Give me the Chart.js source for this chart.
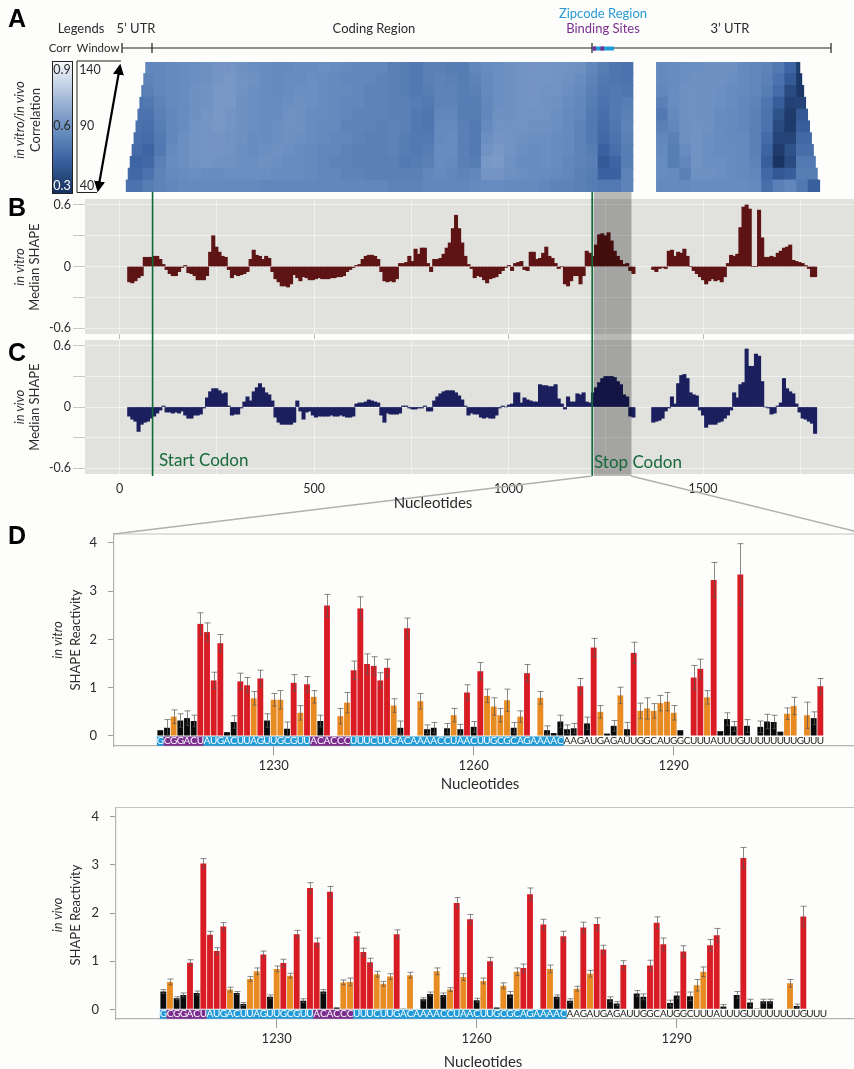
<!DOCTYPE html>
<html>
<head>
<meta charset="utf-8">
<script src="https://cdn.jsdelivr.net/npm/chart.js@4/dist/chart.umd.min.js"></script>
<style>
  html, body { margin: 0; padding: 0; background: #fdfdfb; }
  #page { position: relative; width: 854px; height: 1069px; overflow: hidden; font-family: Lato, "Open Sans", sans-serif; color: #2b2b2b; }
  canvas { position: absolute; }
  .t { position: absolute; transform: translate(-50%, -50%); white-space: nowrap; font-size: 13px; }
  .r { transform: translate(-50%, -50%) rotate(-90deg); }
  .i { font-style: italic; }
  .big { font-weight: 700; font-size: 25px; color: #000; font-family: "Liberation Sans", sans-serif; }
  .green { color: #17693a; font-size: 17px; transform: none; }
  #overlay { position: absolute; left: 0; top: 0; }
  #corrBox { position: absolute; left: 52px; top: 61px; width: 19px; height: 131px; border: 1px solid #222; }
</style>
</head>
<body>
<div id="page">
  <canvas id="heatmap" width="854" height="134" style="left:0;top:60px"></canvas>
  <canvas id="panelB" width="854" height="148" style="left:0;top:192px"></canvas>
  <canvas id="panelC" width="854" height="165" style="left:0;top:340px"></canvas>
  <canvas id="panelD1" width="854" height="250" style="left:0;top:525px"></canvas>
  <canvas id="panelD2" width="854" height="250" style="left:0;top:798px"></canvas>

  <div id="corrBox"></div>
  <svg id="overlay" width="854" height="1069">
    <defs><marker id="ah" viewBox="0 0 10 10" refX="8" refY="5" markerWidth="5" markerHeight="5" orient="auto-start-reverse"><path d="M0 0L10 5L0 10z" fill="#000"/></marker></defs>
    <path d="M121 61H77V192.5H97" fill="none" stroke="#222" stroke-width="1"/>
    <path d="M120 66L98 190" stroke="#000" stroke-width="2.2" marker-start="url(#ah)" marker-end="url(#ah)"/>
    <path d="M122 48H831M122 43V53M152 43V53M592 43V53M831 43V53" stroke="#222" stroke-width="1.2" fill="none"/>
    <rect x="592.5" y="46.5" width="21.5" height="4" fill="#1f9ad6"/>
    <rect x="592.5" y="46.5" width="3.5" height="4" fill="#7b2d8e"/>
    <rect x="600.5" y="46.5" width="3.5" height="4" fill="#7b2d8e"/>
    <path d="M592 476L114 534M631 476L854 531" stroke="#b0b0ae" stroke-width="1.5" fill="none"/>
  </svg>

  <div class="t big" style="left:17px;top:18px">A</div>
  <div class="t big" style="left:17px;top:207px">B</div>
  <div class="t big" style="left:17px;top:352px">C</div>
  <div class="t big" style="left:17px;top:535px">D</div>

  <div class="t" style="left:81px;top:28px">Legends</div>
  <div class="t" style="left:136px;top:28px">5’ UTR</div>
  <div class="t" style="left:374px;top:28px">Coding Region</div>
  <div class="t" style="left:603px;top:13px;color:#2a9ad4">Zipcode Region</div>
  <div class="t" style="left:603px;top:28px;color:#7b2d8e">Binding Sites</div>
  <div class="t" style="left:730px;top:28px">3’ UTR</div>
  <div class="t" style="left:60px;top:47px;font-size:11.5px">Corr</div>
  <div class="t" style="left:98px;top:47px;font-size:11.5px">Window</div>

  <div class="t" style="left:62px;top:69px;font-size:12.5px">0.9</div>
  <div class="t" style="left:62px;top:125px;font-size:12.5px">0.6</div>
  <div class="t" style="left:62px;top:185px;font-size:12.5px;color:#fff">0.3</div>
  <div class="t" style="left:90px;top:69px;font-size:12.5px">140</div>
  <div class="t" style="left:87px;top:125px;font-size:12.5px">90</div>
  <div class="t" style="left:87px;top:185px;font-size:12.5px">40</div>

  <div class="t r i" style="left:19px;top:120px">in vitro/in vivo</div>
  <div class="t r" style="left:35px;top:120px">Correlation</div>
  <div class="t r i" style="left:19px;top:267px">in vitro</div>
  <div class="t r" style="left:34px;top:267px">Median SHAPE</div>
  <div class="t r i" style="left:19px;top:407px">in vivo</div>
  <div class="t r" style="left:34px;top:407px">Median SHAPE</div>

  <div class="t green" style="left:159px;top:449px">Start Codon</div>
  <div class="t green" style="left:594px;top:451px">Stop Codon</div>
  <div class="t" style="left:433px;top:502px;font-size:15px">Nucleotides</div>

  <div class="t r i" style="left:57px;top:640px">in vitro</div>
  <div class="t r" style="left:75px;top:640px">SHAPE Reactivity</div>
  <div class="t" style="left:480px;top:783px;font-size:15px">Nucleotides</div>
  <div class="t r i" style="left:57px;top:915px">in vivo</div>
  <div class="t r" style="left:75px;top:915px">SHAPE Reactivity</div>
  <div class="t" style="left:483px;top:1061px;font-size:15px">Nucleotides</div>
</div>

<script>
// correlation heatmap, one row per window size (values are correlation x 100)
const windows = [140, 130, 120, 110, 100, 90, 80, 70, 60, 50, 40];
const heatRowStart = [67, 62, 57, 52, 47, 42, 37, 32, 27, 22, 17];
const heatRowEnd = [1749, 1754, 1759, 1764, 1769, 1774, 1779, 1784, 1789, 1794, 1800];
const heatBinSize = 30;
const heatCoding = [
  [50,50,56,56,57,58,59,60,62,62,60,59,58,57,57,58,58,59,58,57,56,56,56,54,53,52,54,54,53,53,56,58,59,60,61,62,62,61,61,60,56,53,51,50],
  [50,50,55,56,57,58,59,60,62,63,61,60,58,57,58,58,59,58,57,56,56,56,55,54,53,52,54,55,54,53,55,57,59,60,61,62,62,61,60,58,55,52,51,50],
  [50,50,54,56,57,58,60,61,63,63,61,59,58,57,58,59,59,58,57,57,56,55,55,54,53,52,53,55,55,53,54,57,59,60,61,62,61,61,59,57,54,51,52,51],
  [50,50,52,55,57,58,60,61,63,63,60,59,58,58,59,60,59,58,57,56,56,55,55,54,54,53,52,55,55,53,53,56,59,60,61,62,61,60,58,56,53,50,52,53],
  [50,50,50,54,56,58,60,62,63,62,60,59,58,58,60,60,58,58,57,56,55,55,55,54,54,52,51,56,56,53,53,56,60,60,61,61,61,59,57,56,52,49,52,54],
  [50,50,49,53,56,58,61,62,63,62,60,59,58,59,60,60,58,57,57,55,55,55,54,55,54,52,51,57,57,54,52,57,61,61,61,60,60,59,57,55,52,48,51,55],
  [50,49,48,52,56,59,61,62,62,61,60,58,58,59,60,59,58,57,56,56,55,54,54,55,53,52,52,57,58,54,52,59,62,61,60,59,59,58,57,55,52,47,50,54],
  [49,48,46,52,57,59,61,62,62,61,59,58,59,60,59,58,57,56,56,55,54,54,54,55,53,52,53,58,58,54,52,61,63,61,59,58,59,58,57,55,53,45,49,53],
  [48,46,47,54,58,59,61,62,61,60,59,59,60,59,58,58,57,56,55,55,54,54,54,54,52,53,54,58,57,54,53,63,64,60,58,58,59,58,56,55,54,43,46,53],
  [48,47,50,55,57,58,59,58,58,59,59,59,59,58,58,58,57,56,56,55,55,54,54,54,54,54,56,57,56,55,56,62,62,60,59,58,58,57,56,54,53,45,45,55],
  [50,50,53,55,56,57,57,57,57,57,57,57,56,56,56,56,56,56,56,56,56,56,56,55,55,55,56,56,56,56,57,58,58,57,57,57,56,55,55,54,53,52,52,55]
];
const heatUtrBin = 46; // first bin after the gap
const heatUtr = [
  [57,58,59,59,60,60,60,57,56,55,52,46,34,34],
  [57,58,59,60,60,60,59,57,56,54,50,43,32,32],
  [56,58,60,60,60,59,58,57,56,53,48,38,32,32],
  [54,58,60,60,60,59,58,56,55,51,44,35,36,36],
  [52,57,60,60,60,58,57,56,54,50,40,33,42,42],
  [54,56,60,61,60,58,57,56,54,50,38,33,44,44],
  [56,54,60,61,59,58,57,57,54,48,36,36,47,47],
  [57,53,58,61,59,58,58,57,54,46,33,40,49,49],
  [58,53,56,61,59,59,58,57,55,44,31,38,52,52],
  [58,57,54,60,60,59,58,57,56,47,42,44,53,53],
  [57,57,57,58,58,58,58,58,57,49,54,56,52,44]
];
const corrStops = [[30, [23, 49, 95]], [45, [58, 98, 160]], [57, [100, 138, 190]], [65, [126, 156, 200]], [90, [245, 247, 251]]];

// median SHAPE, one value every 8 nt
const medianStep = 8;
const codingStart = 25;
const utrStart = 1372;
const medianTicks = [0, 250, 500, 750, 1000, 1250, 1500, 1750];
const vitroCoding = [
  -.15,-.16,-.14,-.11,-.09,.09,.09,.09,.10,.10,
  .07,.02,-.03,-.07,-.09,-.09,-.05,-.01,.01,-.06,
  -.07,-.09,-.13,-.13,-.13,-.09,.14,.30,.19,.14,
  .10,.09,-.03,-.11,-.08,-.09,-.08,-.07,-.05,.07,
  .16,.11,.10,.07,.10,.08,-.05,-.12,-.15,-.19,
  -.19,-.20,-.17,-.08,-.11,-.14,-.10,-.11,-.13,-.13,
  -.12,-.11,-.12,-.12,-.12,-.11,-.11,-.10,-.10,-.09,
  -.05,-.03,-.01,.01,.02,.07,.10,.11,.11,.10,
  .07,-.05,-.14,-.15,-.14,-.15,-.12,.03,.03,.04,
  .10,.05,.17,.12,.18,.18,.03,-.05,
  .07,.07,.08,.12,.18,.23,.37,.50,.37,
  .23,.10,.02,-.02,-.11,-.09,-.10,-.13,-.16,-.12,
  -.11,-.10,-.07,-.04,-.01,.01,-.04,.03,.04,.05,
  -.03,-.04,.14,.14,.07,.08,.13,.19,.10,.08,
  .03,-.02,0,-.17,-.19,-.14,-.09,-.09,-.17,-.09,
  .15,.13,.10,.21,.31,.32,.30,.33,.25,.15,
  .10,.06,.02,.03,-.04,-.07
];
const vitroUtr = [
  -.03,-.05,-.02,-.01,-.02,.15,.16,.10,.14,.13,
  .17,.10,0,-.04,-.07,-.10,-.13,-.17,-.14,-.12,
  -.14,-.13,-.15,-.10,.03,.11,.10,.12,.38,.58,
  .60,.56,0,0,.55,.28,.09,.09,.10,.09,
  .13,.15,.18,.19,.21,.06,.05,.04,.03,.01,
  -.02,-.10,-.10
];
const vivoCoding = [
  -.09,-.12,-.14,-.24,-.17,-.15,-.14,-.11,-.09,-.06,
  -.03,.01,-.05,-.05,-.06,-.05,-.06,-.04,-.08,-.11,
  -.11,-.08,-.08,-.07,-.01,.09,.15,.18,.18,.16,
  .13,.14,.01,-.08,-.07,-.07,-.01,.05,.10,.06,
  .15,.19,.23,.19,.14,.12,.06,-.10,-.15,-.17,
  -.17,-.17,-.17,-.15,.06,-.04,-.12,-.05,-.04,-.08,
  -.10,-.09,-.09,-.09,-.09,-.08,-.09,-.09,-.08,
  -.09,-.10,-.10,-.09,.03,.04,.04,.05,.07,.06,
  .05,.04,-.08,-.15,-.06,-.07,-.07,-.07,-.06,.01,
  .01,-.01,-.02,-.02,-.01,-.01,.01,-.04,-.04,
  .06,.10,.13,.15,.16,.16,.16,.14,.11,
  .07,.01,-.08,-.06,-.07,-.07,-.10,-.11,-.10,-.11,
  -.11,-.08,-.01,.01,0,.02,.03,.14,.14,.04,
  .09,.07,.06,.05,.05,.22,.21,.21,.20,.20,
  .22,.08,.03,-.02,.10,.05,.05,.13,.12,.14,
  .05,.04,.14,.19,.24,.28,.30,.30,.30,.29,
  .25,.22,.12,.10,-.09,-.10
];
const vivoUtr = [
  -.15,-.14,-.13,-.11,-.04,-.01,.10,.03,.23,.31,
  .32,.28,.14,.12,.11,-.03,-.08,-.20,-.17,-.17,
  -.17,-.15,-.14,-.11,-.08,-.03,.14,.09,.22,.24,
  .57,.40,.40,.52,.50,.25,0,-.01,-.07,-.06,
  .01,.04,.28,.18,.15,.13,.03,-.05,-.11,-.12,
  -.14,-.16,-.26
];
const startCodon = 85;
const stopCodon = 1215;
const zoomRegion = [1219, 1316];

// SHAPE reactivity per nucleotide, first base is nt 1213
const firstNt = 1213;
const sequence = 'GCGGACUAUGACUUAGUUGCGUUACACCCUUUCUUGACAAAACCUAACUUGCGCAGAAAACAAGAUGAGAUUGGCAUGGCUUUAUUUGUUUUUUUUGUUU';
const zipcodeEnd = 60;
const bindingSites = [[1, 6], [23, 28]];
const vitroReact = [
  .12,.17,.40,.32,.37,.31,2.32,2.15,1.15,1.92,
  .08,.29,1.13,1.05,.78,1.19,.32,.75,.75,.15,
  1.10,.48,1.07,.81,.31,2.70,0,.41,.69,1.36,
  2.64,1.49,1.45,1.15,1.41,.63,.17,2.23,.01,.72,
  .14,.17,0,.16,.43,.14,.90,.19,1.34,.83,
  .61,.43,.74,.17,.40,1.30,0,.79,.12,.06,
  .30,.14,.16,1.03,.26,1.83,.50,.05,.21,.84,
  .14,1.72,.52,.57,.52,.68,.71,.48,.12,.01,
  1.21,1.39,.80,3.23,.10,.35,.20,3.34,.21,0,
  .19,.30,.29,.09,.46,.62,0,.43,.37,1.03
];
const vitroTop = [
  null,.34,.54,.46,.52,.43,2.55,2.34,1.32,2.10,
  null,.42,1.30,1.21,.92,1.36,.46,.88,.94,.29,
  1.27,.63,1.23,.94,.43,2.93,null,.57,.90,1.55,
  2.88,1.70,1.64,1.31,1.59,.77,.31,2.44,null,.88,
  .23,.28,null,.26,.57,.24,1.06,.30,1.52,.97,
  .79,.57,.97,.28,.52,1.48,null,.92,.21,null,
  .43,.23,.26,1.19,.39,2.02,.63,null,.32,1.01,
  .28,1.94,.68,.79,.67,.84,.90,.63,null,null,
  1.46,1.59,.94,3.59,null,.48,.30,3.98,.34,null,
  .31,.45,.43,null,.58,.80,null,.70,.50,1.19
];
const vivoReact = [
  .37,.57,.23,.30,.97,.34,3.03,1.55,1.21,1.72,
  .41,.34,.11,.63,.79,1.14,.26,.84,.96,.70,
  1.56,.18,2.52,1.39,.37,2.44,.04,.56,.57,1.52,
  1.19,.98,.73,.53,.68,1.56,.01,.71,0,.21,
  .32,.79,.30,.41,2.21,.67,1.87,.19,.59,1.00,
  .04,.49,.31,.78,.86,2.39,0,1.76,.84,.26,
  1.52,.18,.43,1.70,.74,1.77,1.24,.21,.12,.92,
  0,.33,.26,.91,1.80,1.35,.13,.29,1.20,.27,
  .50,.78,1.33,1.54,.06,0,.30,3.14,.14,.01,
  .17,.17,0,0,.54,.07,1.93,0,0,0
];
const vivoTop = [
  .41,.63,.26,.34,1.03,.38,3.13,1.62,1.28,1.80,
  .46,.37,.14,.68,.86,1.21,.30,.90,1.04,.75,
  1.64,.22,2.63,1.48,.41,2.55,null,.61,.65,1.60,
  1.27,1.06,.79,.58,.74,1.65,null,.77,null,.24,
  .36,.86,.34,.45,2.32,.74,1.97,.23,.65,1.08,
  null,.55,.37,.86,.94,2.52,null,1.87,.92,.30,
  1.62,.22,.48,1.81,.81,1.90,1.33,.26,.16,1.01,
  null,.39,.32,1.02,1.92,1.48,.19,.36,1.32,.36,
  .62,.88,1.45,1.68,.10,null,.37,3.36,.21,null,
  .21,.21,null,null,.62,.11,2.14,null,null,null
];
const reactTicks = [0, 1, 2, 3, 4];

Chart.defaults.font.family = 'Lato, "Open Sans", sans-serif';
Chart.defaults.font.size = 12.5;
Chart.defaults.color = '#2b2b2b';
Chart.defaults.animation = false;
Chart.defaults.responsive = false;
Chart.defaults.plugins.legend.display = false;
Chart.defaults.plugins.tooltip.enabled = false;

const ntMin = -88.7, ntMax = 1888;

function corrColor(c) {
  for (let i = 1; i < corrStops.length; i++) {
    if (c <= corrStops[i][0]) {
      const a = corrStops[i - 1], b = corrStops[i];
      const f = Math.max(0, (c - a[0]) / (b[0] - a[0]));
      const rgb = a[1].map((v, k) => Math.round(v + (b[1][k] - v) * f));
      return 'rgb(' + rgb.join(',') + ')';
    }
  }
  return 'rgb(245,247,251)';
}

document.getElementById('corrBox').style.background = 'linear-gradient(to top,' +
  corrStops.map(s => corrColor(s[0]) + ' ' + ((s[0] - 30) / 60 * 100) + '%').join(',') + ')';

// stop the axes from reserving room for their outer tick labels
function fixAxis(s, w, h) {
  if (w !== null) s.width = w;
  if (h !== null) s.height = h;
  s.paddingLeft = s.paddingRight = s.paddingTop = s.paddingBottom = 0;
}

// Heatmap: floating horizontal bars, each cell clipped to what its window covers
const heatCells = [];
windows.forEach((w, r) => {
  const addBin = (bin, value) => {
    const a = Math.max(bin * heatBinSize, heatRowStart[r]);
    const b = Math.min((bin + 1) * heatBinSize, heatRowEnd[r]);
    if (b > a) heatCells.push({ x: [a, b], y: w, c: value });
  };
  heatCoding[r].forEach((v, j) => addBin(j, v));
  heatUtr[r].forEach((v, j) => addBin(heatUtrBin + j, v));
});
new Chart(document.getElementById('heatmap'), {
  type: 'bar',
  data: { datasets: [{
    data: heatCells,
    backgroundColor: heatCells.map(d => corrColor(d.c)),
    borderWidth: 0,
    barThickness: 12.4
  }] },
  options: {
    indexAxis: 'y',
    layout: { padding: { left: 85, top: 2, bottom: 2 } },
    scales: {
      x: { type: 'linear', min: ntMin, max: ntMax, display: false },
      y: { type: 'linear', min: 35, max: 145, display: false, offset: false }
    }
  }
});

// Panels B and C
function medianPoints(coding, utr) {
  const pts = [];
  coding.forEach((v, i) => pts.push({ x: codingStart + i * medianStep, y: v }));
  utr.forEach((v, i) => pts.push({ x: utrStart + i * medianStep, y: v }));
  return pts;
}

function panelPlugin(bandBottom) {
  return {
    id: 'panelDeco',
    beforeDraw(chart) {
      const a = chart.chartArea, ctx = chart.ctx;
      ctx.fillStyle = '#e1e2de';
      ctx.fillRect(a.left, a.top, a.right - a.left, a.bottom - a.top);
    },
    afterDatasetsDraw(chart) {
      const x = chart.scales.x, ctx = chart.ctx;
      ctx.save();
      ctx.fillStyle = 'rgba(0,0,0,0.27)';
      const x0 = x.getPixelForValue(zoomRegion[0]);
      ctx.fillRect(x0, 0, x.getPixelForValue(zoomRegion[1]) - x0, bandBottom);
      ctx.strokeStyle = '#0f6a38';
      ctx.lineWidth = 1.6;
      [startCodon, stopCodon].forEach(nt => {
        const px = x.getPixelForValue(nt);
        ctx.beginPath();
        ctx.moveTo(px, 0);
        ctx.lineTo(px, bandBottom);
        ctx.stroke();
      });
      ctx.restore();
    }
  };
}

function medianChart(id, points, color, topPad, axisHeight, bandBottom, showLabels) {
  new Chart(document.getElementById(id), {
    type: 'bar',
    data: { datasets: [{ data: points, backgroundColor: color, borderWidth: 0, barThickness: 3.4 }] },
    options: {
      layout: { padding: { top: topPad } },
      scales: {
        x: {
          type: 'linear', min: ntMin, max: ntMax, offset: false,
          afterFit: s => fixAxis(s, null, axisHeight),
          afterBuildTicks: s => { s.ticks = medianTicks.map(v => ({ value: v })); },
          border: { display: false },
          grid: {
            offset: false,
            color: 'rgba(255,255,255,0.5)',
            drawTicks: !showLabels,
            tickLength: 5,
            tickColor: c => (c.tick && c.tick.value % 500 === 0 ? '#bdbdbb' : 'rgba(0,0,0,0)')
          },
          ticks: {
            display: showLabels, autoSkip: false, maxRotation: 0, padding: 7,
            callback: v => (v % 500 === 0 ? String(v) : '')
          }
        },
        y: {
          min: -0.658, max: 0.658,
          afterFit: s => fixAxis(s, 85, null),
          border: { display: false },
          grid: { color: 'rgba(255,255,255,0.5)', tickColor: '#c9c9c6', tickLength: 12 },
          ticks: {
            stepSize: 0.3, includeBounds: false, padding: 2,
            callback: v => {
              if (Math.abs(v) < 0.01) return '0';
              return Math.abs(Math.abs(v) - 0.6) < 0.01 ? v.toFixed(1) : '';
            }
          }
        }
      }
    },
    plugins: [panelPlugin(bandBottom)]
  });
}
medianChart('panelB', medianPoints(vitroCoding, vitroUtr), '#5e1414', 7, 6, 148, false);
medianChart('panelC', medianPoints(vivoCoding, vivoUtr), '#1b1f5e', 0, 31, 136, true);

// Panel D
function reactColor(v) {
  if (v < 0.4) return '#0a0a0a';
  return v < 0.85 ? '#e98b23' : '#d91c24';
}
function stripColor(i) {
  if (bindingSites.some(s => i >= s[0] && i <= s[1])) return '#7b2d8e';
  return i <= zipcodeEnd ? '#1f9ad6' : 'rgba(0,0,0,0)';
}

const reactPlugin = tops => ({
  id: 'reactDeco',
  afterDatasetsDraw(chart) {
    const x = chart.scales.x, y = chart.scales.y, ctx = chart.ctx, a = chart.chartArea;
    const vals = chart.data.datasets[1].data;
    ctx.save();
    // error bars
    ctx.strokeStyle = 'rgba(85,85,85,0.7)';
    ctx.lineWidth = 1;
    tops.forEach((top, i) => {
      if (top === null) return;
      const px = Math.round(x.getPixelForValue(vals[i].x)) + 0.5;
      const hi = y.getPixelForValue(top);
      const lo = y.getPixelForValue(Math.max(0, 2 * vals[i].y - top));
      ctx.beginPath();
      ctx.moveTo(px, hi);
      ctx.lineTo(px, lo);
      ctx.moveTo(px - 3, hi);
      ctx.lineTo(px + 3, hi);
      ctx.moveTo(px - 2, lo);
      ctx.lineTo(px + 2, lo);
      ctx.stroke();
    });
    // sequence letters under the bars
    ctx.font = '10px Lato, "Open Sans", sans-serif';
    ctx.textAlign = 'center';
    ctx.textBaseline = 'middle';
    sequence.split('').forEach((base, i) => {
      ctx.fillStyle = i <= zipcodeEnd ? '#fff' : '#222';
      ctx.fillText(base, x.getPixelForValue(firstNt + i), y.getPixelForValue(-0.1));
    });
    // frame line on top of the panel
    ctx.strokeStyle = '#c4c4c2';
    ctx.lineWidth = 1.2;
    ctx.beginPath();
    ctx.moveTo(a.left, a.top);
    ctx.lineTo(a.right, a.top);
    ctx.stroke();
    ctx.restore();
  }
});

function reactChart(id, values, tops, left, xMin, xMax, yMin, yMax, topPad) {
  const bases = sequence.split('');
  new Chart(document.getElementById(id), {
    type: 'bar',
    data: { datasets: [
      {
        data: bases.map((b, i) => ({ x: firstNt + i, y: [yMin + 0.005, 0] })),
        backgroundColor: bases.map((b, i) => stripColor(i)),
        borderWidth: 0, grouped: false, barPercentage: 1.04, categoryPercentage: 1
      },
      {
        data: values.map((v, i) => ({ x: firstNt + i, y: v })),
        backgroundColor: values.map(reactColor),
        borderWidth: 0, grouped: false, barPercentage: 0.88, categoryPercentage: 1
      }
    ] },
    options: {
      layout: { padding: { top: topPad } },
      scales: {
        x: {
          type: 'linear', min: xMin, max: xMax, offset: false,
          afterFit: s => fixAxis(s, null, 29),
          border: { color: '#b5b5b3', width: 1.2 },
          grid: { offset: false, drawOnChartArea: false, tickColor: '#9a9a98', tickLength: 9 },
          ticks: { stepSize: 30, includeBounds: false, autoSkip: false, maxRotation: 0, padding: 3, font: { size: 13 }, callback: v => String(v) }
        },
        y: {
          min: yMin, max: yMax,
          afterFit: s => fixAxis(s, left, null),
          afterBuildTicks: s => { s.ticks = reactTicks.map(v => ({ value: v })); },
          border: { color: '#b5b5b3', width: 1.2 },
          grid: { drawOnChartArea: false, tickColor: '#9a9a98', tickLength: 6 },
          ticks: { padding: 11, font: { size: 13 } }
        }
      }
    },
    plugins: [reactPlugin(tops)]
  });
}
reactChart('panelD1', vitroReact, vitroTop, 114, 1206.05, 1317.05, -0.207, 4.18, 9);
reactChart('panelD2', vivoReact, vivoTop, 116, 1205.9, 1316.6, -0.2, 4.19, 9.5);
</script>
</body>
</html>
